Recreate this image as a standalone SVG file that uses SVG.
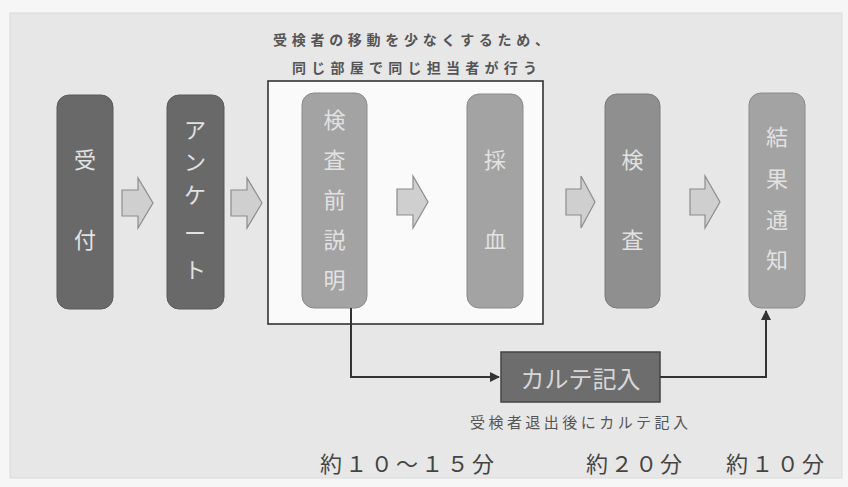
<svg xmlns="http://www.w3.org/2000/svg" width="848" height="487" viewBox="0 0 848 487">
<style>
text{font-family:"Noto Sans CJK JP","Noto Sans CJK SC",sans-serif}
.node{stroke:#5a5a5a;stroke-width:1}
.dark{fill:#696969}
.light{fill:#a3a3a3;stroke:#8a8a8a}
.mid{fill:#8f8f8f;stroke:#7a7a7a}
.nt{font-size:22px;fill:#e2e2e2;text-anchor:middle;dominant-baseline:central}
.blk{fill:#cfcfcf;stroke:#8c8c8c;stroke-width:1.2}
.conn{fill:none;stroke:#333;stroke-width:2}
.note{font-size:14px;fill:#555;font-weight:bold}
.time{font-size:22px;fill:#444;dominant-baseline:central}
</style>
<defs>
<marker id="ah" viewBox="0 0 10 10" refX="9" refY="5" markerWidth="5" markerHeight="5" orient="auto"><path d="M0,0 L10,5 L0,10 Z" fill="#333"/></marker>
</defs>
<rect x="0" y="0" width="848" height="487" fill="#f6f6f6"/>
<rect x="10" y="13" width="832" height="465" fill="#e7e7e7" stroke="#dadada"/>
<rect x="268" y="81" width="275" height="243" fill="#fafafa" stroke="#333" stroke-width="1.6"/>
<text class="note" x="273" y="45" textLength="276" lengthAdjust="spacing">受検者の移動を少なくするため、</text>
<text class="note" x="292" y="73" textLength="245" lengthAdjust="spacing">同じ部屋で同じ担当者が行う</text>
<g id="uketsuke"><rect class="node dark" x="57" y="95" width="56" height="214" rx="12"/><text class="nt" x="85" y="158">受</text><text class="nt" x="85" y="238">付</text></g>
<g id="enquete"><rect class="node dark" x="167" y="95" width="57" height="214" rx="12"/><text class="nt" x="195" y="128">ア</text><text class="nt" x="195" y="160">ン</text><text class="nt" x="195" y="193">ケ</text><text class="nt" x="195" y="231">ー</text><text class="nt" x="195" y="268">ト</text></g>
<g id="setsumei"><rect class="node light" x="302" y="93" width="65" height="215" rx="12"/><text class="nt" x="334.5" y="118">検</text><text class="nt" x="334.5" y="158">査</text><text class="nt" x="334.5" y="198">前</text><text class="nt" x="334.5" y="238">説</text><text class="nt" x="334.5" y="278">明</text></g>
<g id="saiketsu"><rect class="node light" x="467" y="94" width="56" height="214" rx="12"/><text class="nt" x="495" y="158">採</text><text class="nt" x="495" y="238">血</text></g>
<g id="kensa"><rect class="node mid" x="605" y="94" width="55" height="214" rx="12"/><text class="nt" x="632.5" y="158">検</text><text class="nt" x="632.5" y="238">査</text></g>
<g id="kekka"><rect class="node light" x="749" y="93" width="56" height="215" rx="12" fill="#a8a8a8"/><text class="nt" x="777" y="135">結</text><text class="nt" x="777" y="177">果</text><text class="nt" x="777" y="218">通</text><text class="nt" x="777" y="258">知</text></g>
<g id="karte"><rect x="501" y="352" width="159" height="50" fill="#6d6d6d" stroke="#444" stroke-width="1.5"/><text x="580.5" y="377" font-size="24" fill="#d6d6d6" text-anchor="middle" dominant-baseline="central">カルテ記入</text></g>
<g id="connectors">
<path class="blk" d="M122,190 H138 V178 L153,203 L138,228 V216 H122 Z"/>
<path class="blk" d="M231,190 H247 V178 L262,203 L247,228 V216 H231 Z"/>
<path class="blk" d="M397,189 H413 V176 L428,202 L413,228 V215 H397 Z"/>
<path class="blk" d="M566,189 H581 V176 L595,202 L581,228 V215 H566 Z"/>
<path class="blk" d="M690,189 H705 V176 L720,202 L705,228 V215 H690 Z"/>
<path class="conn" d="M351,308 V377 H499" marker-end="url(#ah)"/>
<path class="conn" d="M660,377 H766 V311" marker-end="url(#ah)"/>
</g>
<text x="470" y="428" font-size="15" fill="#555" textLength="218" lengthAdjust="spacing">受検者退出後にカルテ記入</text>
<text class="time" x="320" y="462" textLength="174" lengthAdjust="spacing">約１０～１５分</text>
<text class="time" x="586" y="462" textLength="96" lengthAdjust="spacing">約２０分</text>
<text class="time" x="726" y="462" textLength="98" lengthAdjust="spacing">約１０分</text>
</svg>
